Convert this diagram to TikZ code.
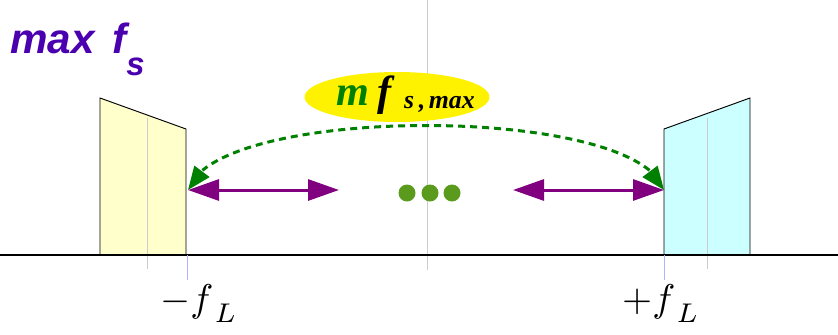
\documentclass[tikz,border=0pt]{standalone}
\usepackage{fontspec}
\usepackage{xcolor}
\usepackage{tikz}
\usetikzlibrary{
  shapes.geometric, arrows.meta, bending, positioning
}
\newfontfamily\titlefont{Liberation Sans}
\newfontfamily\bubblefont{Liberation Serif}
\definecolor{titleviolet}{RGB}{75,0,175}
\definecolor{arrowpurple}{RGB}{128,0,128}
\definecolor{arcgreen}{RGB}{0,128,0}
\definecolor{dotgreen}{RGB}{90,155,30}
\definecolor{bandyellow}{RGB}{255,255,204}
\definecolor{bandcyan}{RGB}{204,255,255}
\newcommand{\edgelabel}[1]{\scalebox{3.3}{$#1f_{\,\lower1.5pt\hbox{$\scriptstyle L$}}$}}
\tikzset{
  bandbox/.style={
    draw=black, line width=0.8pt
  },
  gridline/.style={
    draw=black!20, line width=0.7pt
  },
  tickline/.style={
    draw=blue!30, line width=0.7pt
  },
  sidearrow/.style={
    {Triangle[length=0.93cm,width=0.63cm]}-{Triangle[length=0.93cm,width=0.63cm]},
    line width=0.09cm, color=arrowpurple
  },
  arcarrow/.style={
    {Triangle[length=0.7cm,width=0.55cm,flex]}-{Triangle[length=0.7cm,width=0.55cm,flex]},
    dash pattern=on 0.21cm off 0.15cm, line width=0.09cm, color=arcgreen
  },
  freqlabel/.style={
    inner sep=0pt, anchor=base west
  },
}

\begin{document}
\begin{tikzpicture}[
  x=0.03cm, y=-0.03cm,
  dotnode/.style={circle, fill=dotgreen, minimum size=0.51cm, inner sep=0pt},
  bubble/.style={ellipse, fill=yellow, minimum width=5.55cm, minimum height=1.5cm, inner sep=0pt},
]
  \useasboundingbox (0,0) rectangle (838,334);

  % --- Bands ---
  \filldraw[bandbox, fill=bandyellow] (100,255) -- (100,98) -- (186,129) -- (186,255) -- cycle;
  \filldraw[bandbox, fill=bandcyan] (664,255) -- (664,129) -- (750,98) -- (750,255) -- cycle;
  \draw[gridline] (147,118) -- (147,269);
  \draw[gridline] (707,118) -- (707,269);
  \draw[gridline] (427,0) -- (427,270);

  % --- Axis and ticks ---
  \draw[line width=1.1pt] (0,255) -- (838,255);
  \draw[tickline] (187,255) -- (187,280);
  \draw[tickline] (664,255) -- (664,280);

  \node[freqlabel] (loweredge) at (160,311) {\edgelabel{-}};
  \node[freqlabel] (upperedge) at (622,311) {\edgelabel{+}};

  % --- Title ---
  \node[anchor=base west, inner sep=0pt, text=titleviolet,
    font=\titlefont\bfseries\itshape\fontsize{36}{40}\selectfont] (title) at (10,53)
    {max\hspace{5pt} f\raisebox{-19pt}{\fontsize{28}{30}\selectfont s}};

  % --- Bubble ---
  \node[bubble] (bubble) at (397,97) {};
  \node[anchor=base west, inner sep=0pt,
    font=\bubblefont\bfseries\itshape\fontsize{36}{40}\selectfont] (bubbletext) at (336,105)
    {\textcolor{arcgreen}{m}\hspace{7pt}f\hspace{11pt}\raisebox{-3.4pt}{\fontsize{22}{24}\selectfont s\hspace{4pt},\hspace{3pt}max}};

  % --- Arrows ---
  \coordinate (lowtip) at (188,190);
  \coordinate (lowend) at (339,190);
  \coordinate (upend) at (513,190);
  \coordinate (uptip) at (664,190);

  \draw[arcarrow] (uptip) .. controls (637,104) and (215,104) .. (lowtip);
  \draw[sidearrow] (lowtip) -- (lowend);
  \draw[sidearrow] (upend) -- (uptip);

  % Dots
  \foreach \i/\x in {1/407,2/430,3/452}
    \node[dotnode] (dot\i) at (\x,193) {};
\end{tikzpicture}
\end{document}
